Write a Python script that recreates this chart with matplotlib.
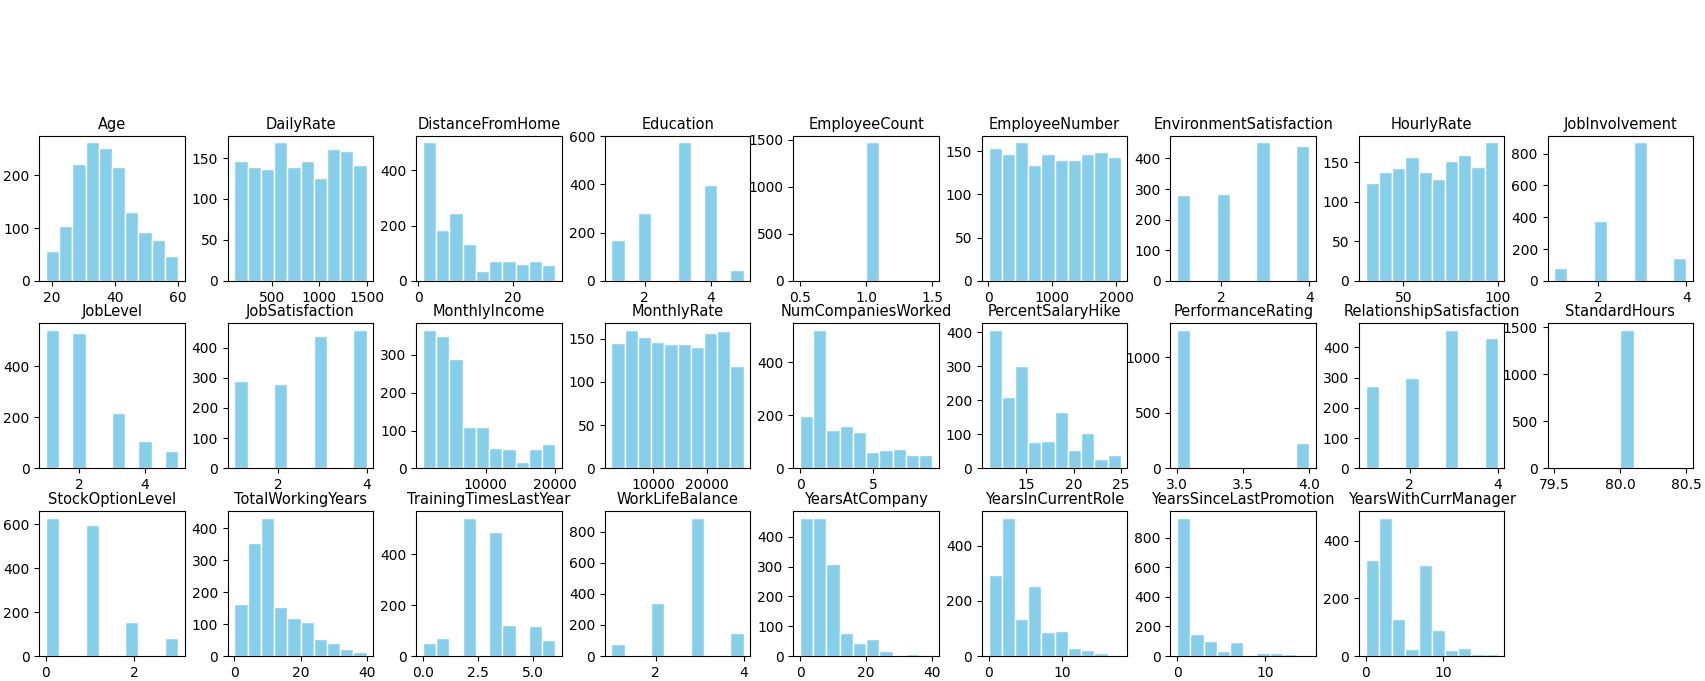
import numpy as np
import matplotlib
matplotlib.use("Agg")
import matplotlib.pyplot as plt

# ---- data: column name, value range (min, max) and counts in 10 equal bins ----
columns = ["Age", "DailyRate", "DistanceFromHome", "Education", "EmployeeCount",
           "EmployeeNumber", "EnvironmentSatisfaction", "HourlyRate", "JobInvolvement",
           "JobLevel", "JobSatisfaction", "MonthlyIncome", "MonthlyRate",
           "NumCompaniesWorked", "PercentSalaryHike", "PerformanceRating",
           "RelationshipSatisfaction", "StandardHours", "StockOptionLevel",
           "TotalWorkingYears", "TrainingTimesLastYear", "WorkLifeBalance",
           "YearsAtCompany", "YearsInCurrentRole", "YearsSinceLastPromotion",
           "YearsWithCurrManager"]

ranges = {
    "Age": (18, 60), "DailyRate": (102, 1499), "DistanceFromHome": (1, 29),
    "Education": (1, 5), "EmployeeCount": (0.5, 1.5), "EmployeeNumber": (1, 2068),
    "EnvironmentSatisfaction": (1, 4), "HourlyRate": (30, 100), "JobInvolvement": (1, 4),
    "JobLevel": (1, 5), "JobSatisfaction": (1, 4), "MonthlyIncome": (1009, 19999),
    "MonthlyRate": (2094, 26999), "NumCompaniesWorked": (0, 9),
    "PercentSalaryHike": (11, 25), "PerformanceRating": (3, 4),
    "RelationshipSatisfaction": (1, 4), "StandardHours": (79.5, 80.5),
    "StockOptionLevel": (0, 3), "TotalWorkingYears": (0, 40),
    "TrainingTimesLastYear": (0, 6), "WorkLifeBalance": (1, 4),
    "YearsAtCompany": (0, 40), "YearsInCurrentRole": (0, 18),
    "YearsSinceLastPromotion": (0, 15), "YearsWithCurrManager": (0, 17),
}

age_counts = [56, 104, 222, 262, 252, 215, 131, 92, 77, 48]
dailyrate_counts = [146, 139, 136, 169, 139, 146, 126, 161, 158, 142]
distance_counts = [501, 185, 246, 133, 35, 73, 71, 61, 73, 58]
education_counts = [168, 0, 281, 0, 0, 574, 0, 399, 0, 47]
employeecount_counts = [0, 0, 0, 0, 0, 1470, 0, 0, 0, 0]
employeenumber_counts = [154, 147, 160, 134, 147, 140, 140, 147, 149, 143]
envsat_counts = [282, 0, 0, 285, 0, 0, 452, 0, 0, 442]
hourlyrate_counts = [124, 138, 143, 156, 138, 129, 152, 159, 144, 175]
jobinv_counts = [80, 0, 0, 374, 0, 0, 870, 0, 0, 141]
joblevel_counts = [541, 0, 530, 0, 0, 218, 0, 108, 0, 69]
jobsat_counts = [289, 0, 0, 279, 0, 0, 439, 0, 0, 458]
monthlyincome_counts = [365, 348, 289, 109, 109, 54, 51, 18, 51, 64]
monthlyrate_counts = [145, 160, 152, 146, 144, 144, 140, 156, 159, 118]
numcompanies_counts = [196, 521, 145, 160, 139, 63, 70, 74, 49, 52]
salaryhike_counts = [406, 209, 300, 77, 80, 165, 54, 104, 27, 38]
perfrating_counts = [1244, 0, 0, 0, 0, 0, 0, 0, 0, 226]
relsat_counts = [273, 0, 0, 300, 0, 0, 457, 0, 0, 430]
standardhours_counts = [0, 0, 0, 0, 0, 1470, 0, 0, 0, 0]
stockoption_counts = [630, 0, 0, 596, 0, 0, 155, 0, 0, 84]
totalyears_counts = [163, 355, 434, 153, 119, 107, 52, 40, 22, 11]
training_counts = [53, 69, 0, 544, 0, 487, 120, 0, 117, 64]
wlb_counts = [80, 0, 0, 340, 0, 0, 890, 0, 0, 149]
yearsatcompany_counts = [462, 465, 308, 76, 44, 57, 16, 4, 8, 3]
yearsinrole_counts = [296, 503, 135, 256, 86, 92, 28, 21, 12, 4]
yearspromo_counts = [936, 152, 103, 35, 97, 10, 17, 17, 11, 10]
yearsmanager_counts = [333, 481, 127, 26, 317, 89, 20, 28, 7, 7]

counts = {
    "Age": age_counts, "DailyRate": dailyrate_counts, "DistanceFromHome": distance_counts,
    "Education": education_counts, "EmployeeCount": employeecount_counts,
    "EmployeeNumber": employeenumber_counts, "EnvironmentSatisfaction": envsat_counts,
    "HourlyRate": hourlyrate_counts, "JobInvolvement": jobinv_counts,
    "JobLevel": joblevel_counts, "JobSatisfaction": jobsat_counts,
    "MonthlyIncome": monthlyincome_counts, "MonthlyRate": monthlyrate_counts,
    "NumCompaniesWorked": numcompanies_counts, "PercentSalaryHike": salaryhike_counts,
    "PerformanceRating": perfrating_counts, "RelationshipSatisfaction": relsat_counts,
    "StandardHours": standardhours_counts, "StockOptionLevel": stockoption_counts,
    "TotalWorkingYears": totalyears_counts, "TrainingTimesLastYear": training_counts,
    "WorkLifeBalance": wlb_counts, "YearsAtCompany": yearsatcompany_counts,
    "YearsInCurrentRole": yearsinrole_counts, "YearsSinceLastPromotion": yearspromo_counts,
    "YearsWithCurrManager": yearsmanager_counts,
}

fig, axes = plt.subplots(3, 9, figsize=(17.06, 6.81), dpi=100)
fig.subplots_adjust(left=0.023, right=0.9924, top=0.801, bottom=0.0367,
                    wspace=0.296, hspace=0.29)

for ax, col in zip(axes.flat, columns):
    lo, hi = ranges[col]
    edges = np.linspace(lo, hi, 11)
    centers = (edges[:-1] + edges[1:]) / 2
    ax.hist(centers, bins=edges, weights=counts[col], color="skyblue",
            edgecolor="white", linewidth=1)
    ax.set_title(col, fontsize=10.5, pad=5)
    ax.tick_params(labelsize=10)
    ax.grid(False)

for ax in axes.flat[len(columns):]:
    ax.set_visible(False)

fig.savefig("out.png", dpi=100)
